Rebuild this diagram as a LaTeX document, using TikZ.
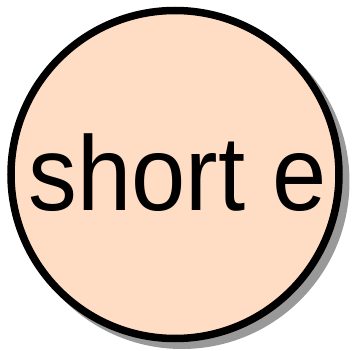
\documentclass[tikz,border=0pt]{standalone}
\usepackage{fontspec}
\setmainfont{Liberation Sans}
\definecolor{peach}{RGB}{255,221,196}
\definecolor{shadowgray}{RGB}{153,153,153}
\tikzset{
  state/.style={circle, draw=black, line width=7.5bp, fill=peach, minimum size=328bp, inner sep=0pt},
  shadowdisc/.style={circle, fill=shadowgray, minimum size=335bp, inner sep=0pt},
  label text/.style={font=\fontsize{106bp}{114bp}\selectfont, text=black, inner sep=0pt}
}
\begin{document}
\begin{tikzpicture}[x=1bp,y=1bp]
\useasboundingbox (0,0) rectangle (352,351);
\node[shadowdisc] (sh) at (182,169.5) {};
\node[state] (c) at (175,176.5) {};
\node[label text, anchor=base] (t) at (177.5,141) {\scalebox{0.92}[1]{short e}};
\end{tikzpicture}
\end{document}
